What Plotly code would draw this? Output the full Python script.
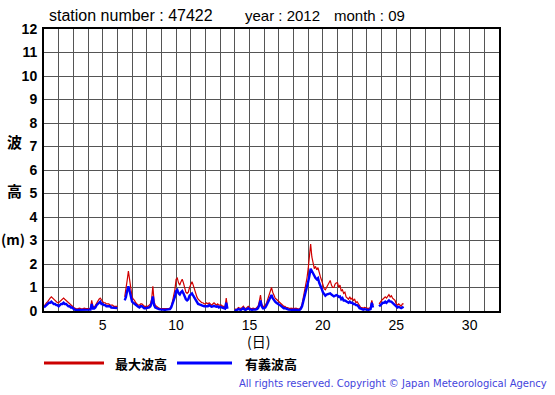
import plotly.graph_objects as go

# 2-hour step, values per day (index = hour/2)
start_day = 1
step_hours = 2

max_wave = [
    # day 1
    0.2, 0.3, 0.35, 0.4, 0.5, 0.55, 0.6, 0.55, 0.5, 0.45, 0.4, 0.35,
    # day 2
    0.35, 0.4, 0.45, 0.5, 0.55, 0.5, 0.45, 0.4, 0.35, 0.3, 0.25, 0.2,
    # day 3
    0.15, 0.12, 0.1, 0.08, 0.1, 0.12, 0.1, 0.08, 0.1, 0.12, 0.1, 0.1,
    # day 4
    0.1, 0.12, 0.1, 0.45, 0.2, 0.15, 0.25, 0.35, 0.45, 0.5, 0.55, 0.45,
    # day 5
    0.4, 0.35, 0.35, 0.3, 0.3, 0.3, 0.25, 0.25, 0.25, 0.2, 0.2, 0.2,
    # day 6
    0.2, None, None, None, None, None, 0.6, 0.9, 1.3, 1.7, 1.3, 0.8,
    # day 7
    0.6, 0.5, 0.45, 0.35, 0.3, 0.25, 0.25, 0.3, 0.3, 0.25, 0.2, 0.2,
    # day 8
    0.2, 0.2, 0.25, 0.3, 0.5, 1.05, 0.4, 0.25, 0.2, 0.15, 0.12, 0.1,
    # day 9
    0.1, 0.1, 0.08, 0.08, 0.1, 0.1, 0.1, 0.12, 0.2, 0.4, 0.6, 0.9,
    # day 10
    1.35, 1.4, 1.2, 1.1, 1.25, 1.35, 1.2, 0.95, 0.8, 0.75, 0.8, 1.0,
    # day 11
    1.15, 1.25, 1.1, 0.9, 0.75, 0.6, 0.5, 0.45, 0.4, 0.35, 0.35, 0.3,
    # day 12
    0.3, 0.35, 0.3, 0.35, 0.3, 0.25, 0.3, 0.35, 0.3, 0.25, 0.3, 0.25,
    # day 13
    0.25, 0.25, 0.2, 0.2, 0.15, 0.55, 0.15, None, None, None, None, None,
    # day 14
    0.1, 0.05, 0.1, 0.15, 0.12, 0.1, 0.15, 0.2, 0.12, 0.1, 0.15, 0.2,
    # day 15
    0.15, 0.1, 0.1, 0.12, 0.1, 0.1, 0.15, 0.2, 0.4, 0.68, 0.3, 0.2,
    # day 16
    0.2, 0.25, 0.35, 0.5, 0.7, 0.85, 1.0, 0.8, 0.65, 0.55, 0.5, 0.45,
    # day 17
    0.4, 0.35, 0.3, 0.25, 0.2, 0.2, 0.15, 0.15, 0.12, 0.1, 0.12, 0.1,
    # day 18
    0.12, 0.1, 0.12, 0.1, 0.08, 0.1, 0.15, 0.3, 0.55, 0.85, 1.0, 1.4,
    # day 19
    1.8, 2.3, 2.85, 2.3, 2.05, 1.8, 1.9, 1.75, 1.85, 1.6, 1.45, 1.3,
    # day 20
    1.1, 0.95, 0.9, 1.0, 1.05, 1.2, 1.3, 1.1, 1.0, 1.0, 1.15, 1.2,
    # day 21
    1.2, 1.0, 1.1, 0.85, 0.9, 0.75, 0.8, 0.6, 0.55, 0.5, 0.6, 0.5,
    # day 22
    0.55, 0.45, 0.5, 0.35, 0.4, 0.3, 0.2, 0.15, 0.15, 0.12, 0.15, 0.12,
    # day 23
    0.12, 0.1, 0.12, 0.15, 0.45, 0.25, None, None, None, None, 0.3, 0.4,
    # day 24
    0.45, 0.5, 0.55, 0.6, 0.55, 0.65, 0.7, 0.6, 0.65, 0.55, 0.5, 0.45,
    # day 25
    0.3, 0.25, 0.3, 0.25, 0.2, 0.3, 0.3,
]

sig_wave = [
    # day 1
    0.15, 0.2, 0.25, 0.3, 0.35, 0.35, 0.4, 0.35, 0.3, 0.3, 0.25, 0.25,
    # day 2
    0.2, 0.25, 0.3, 0.3, 0.35, 0.3, 0.3, 0.25, 0.2, 0.2, 0.15, 0.15,
    # day 3
    0.08, 0.06, 0.05, 0.05, 0.06, 0.07, 0.06, 0.05, 0.06, 0.07, 0.06, 0.06,
    # day 4
    0.06, 0.07, 0.06, 0.3, 0.1, 0.1, 0.15, 0.25, 0.3, 0.35, 0.4, 0.3,
    # day 5
    0.3, 0.25, 0.25, 0.2, 0.2, 0.2, 0.2, 0.15, 0.15, 0.15, 0.12, 0.12,
    # day 6
    0.12, None, None, None, None, None, 0.45, 0.6, 0.85, 1.05, 0.85, 0.55,
    # day 7
    0.4, 0.35, 0.3, 0.25, 0.2, 0.18, 0.15, 0.2, 0.2, 0.15, 0.12, 0.12,
    # day 8
    0.12, 0.12, 0.15, 0.2, 0.35, 0.62, 0.25, 0.15, 0.12, 0.1, 0.08, 0.07,
    # day 9
    0.06, 0.06, 0.05, 0.05, 0.06, 0.06, 0.06, 0.08, 0.15, 0.3, 0.45, 0.6,
    # day 10
    0.85, 0.9, 0.75, 0.7, 0.8, 0.85, 0.75, 0.6, 0.5, 0.45, 0.5, 0.65,
    # day 11
    0.7, 0.75, 0.65, 0.55, 0.45, 0.35, 0.3, 0.28, 0.25, 0.22, 0.22, 0.2,
    # day 12
    0.2, 0.22, 0.2, 0.25, 0.2, 0.18, 0.2, 0.22, 0.2, 0.18, 0.2, 0.15,
    # day 13
    0.18, 0.15, 0.12, 0.12, 0.1, 0.35, 0.1, None, None, None, None, None,
    # day 14
    0.05, 0.02, 0.05, 0.08, 0.06, 0.05, 0.08, 0.12, 0.06, 0.05, 0.08, 0.12,
    # day 15
    0.08, 0.06, 0.05, 0.06, 0.05, 0.06, 0.08, 0.12, 0.25, 0.45, 0.2, 0.12,
    # day 16
    0.12, 0.15, 0.25, 0.35, 0.5, 0.6, 0.68, 0.55, 0.45, 0.4, 0.35, 0.3,
    # day 17
    0.28, 0.25, 0.2, 0.15, 0.12, 0.12, 0.08, 0.08, 0.06, 0.05, 0.06, 0.05,
    # day 18
    0.06, 0.05, 0.06, 0.05, 0.04, 0.05, 0.1, 0.2, 0.4, 0.6, 0.75, 1.0,
    # day 19
    1.25, 1.5, 1.8, 1.7, 1.6, 1.45, 1.4, 1.35, 1.4, 1.2, 1.1, 0.95,
    # day 20
    0.8, 0.7, 0.65, 0.7, 0.72, 0.75, 0.75, 0.7, 0.65, 0.62, 0.65, 0.68,
    # day 21
    0.65, 0.6, 0.62, 0.5, 0.55, 0.45, 0.45, 0.4, 0.38, 0.35, 0.4, 0.35,
    # day 22
    0.35, 0.3, 0.3, 0.25, 0.25, 0.2, 0.12, 0.1, 0.08, 0.06, 0.08, 0.06,
    # day 23
    0.06, 0.05, 0.06, 0.08, 0.35, 0.15, None, None, None, None, 0.2, 0.25,
    # day 24
    0.3, 0.35, 0.35, 0.4, 0.35, 0.4, 0.45, 0.4, 0.4, 0.35, 0.3, 0.28,
    # day 25
    0.2, 0.15, 0.18, 0.15, 0.12, 0.15, 0.18,
]

x_tick_labels = ["5", "10", "15", "20", "25", "30"]
y_tick_labels = [str(v) for v in range(0, 13)]

title_parts = ["station number : 47422", "year : 2012", "month : 09"]
legend_names = ["最大波高", "有義波高"]
copyright_text = "All rights reserved. Copyright © Japan Meteorological Agency"

times = [start_day + i * step_hours / 24 for i in range(len(max_wave))]

fig = go.Figure()
fig.add_trace(go.Scatter(x=times, y=max_wave, mode="lines",
                         line=dict(color="#d00000", width=1.2),
                         connectgaps=False, name=legend_names[0], showlegend=False))
fig.add_trace(go.Scatter(x=times, y=sig_wave, mode="lines",
                         line=dict(color="#0000ff", width=2.4),
                         connectgaps=False, name=legend_names[1], showlegend=False))

tickvals = list(range(1, 33))
ticktext = [str(v) if str(v) in x_tick_labels else "" for v in tickvals]

fig.update_xaxes(range=[1, 32], tickvals=tickvals, ticktext=ticktext,
                 showgrid=True, gridcolor="#555555", gridwidth=1,
                 showline=True, linecolor="black", linewidth=2, mirror=True,
                 ticks="", zeroline=False, ticklabelstandoff=0,
                 tickfont=dict(family="Liberation Sans, Arial", size=14, color="black"))
fig.update_yaxes(range=[0, 12], tickvals=list(range(0, 13)), ticktext=y_tick_labels,
                 showgrid=True, gridcolor="#555555", gridwidth=1,
                 showline=True, linecolor="black", linewidth=2, mirror=True,
                 ticks="", zeroline=False, ticklabelstandoff=2,
                 tickfont=dict(family="Liberation Sans, Arial", size=14, color="black",
                               weight="bold"))

L, R, T, B = 44, 56, 29, 84
W, H = 555, 395
pw, ph = W - L - R, H - T - B


def px(x):
    return (x - L) / pw


def py(y):
    return (H - B - y) / ph


title_font = dict(family="Liberation Sans, Arial", size=15, color="black")
annotations = [
    dict(text=title_parts[0], x=px(47), y=py(16), xanchor="left", yanchor="middle",
         font=dict(title_font, size=16)),
    dict(text=title_parts[1], x=px(243), y=py(16), xanchor="left", yanchor="middle",
         font=title_font),
    dict(text=title_parts[2], x=px(332), y=py(16), xanchor="left", yanchor="middle",
         font=title_font),
    dict(text="波", x=px(14), y=py(141), xanchor="center", yanchor="middle",
         font=dict(family="Noto Sans CJK JP", size=15, color="black", weight="bold")),
    dict(text="高", x=px(14), y=py(190), xanchor="center", yanchor="middle",
         font=dict(family="Noto Sans CJK JP", size=15, color="black", weight="bold")),
    dict(text="(m)", x=px(13), y=py(239), xanchor="center", yanchor="middle",
         font=dict(family="Noto Sans CJK JP", size=14, color="black", weight="bold")),
    dict(text="(日)", x=px(258.5), y=py(341), xanchor="center", yanchor="middle",
         font=dict(family="Noto Sans CJK JP", size=14, color="black")),
    dict(text=legend_names[0], x=px(113), y=py(363), xanchor="left", yanchor="middle",
         font=dict(family="Noto Sans CJK JP", size=13, color="black", weight="bold")),
    dict(text=legend_names[1], x=px(243), y=py(363), xanchor="left", yanchor="middle",
         font=dict(family="Noto Sans CJK JP", size=13, color="black", weight="bold")),
    dict(text=copyright_text, x=px(549), y=py(384), xanchor="right", yanchor="middle",
         font=dict(family="DejaVu Sans", size=10, color="#4444dd")),
]
for a in annotations:
    a.update(xref="paper", yref="paper", showarrow=False)

shapes = [
    dict(type="line", xref="paper", yref="paper", x0=px(44), x1=px(104),
         y0=py(363), y1=py(363), line=dict(color="#cc0000", width=3)),
    dict(type="line", xref="paper", yref="paper", x0=px(177), x1=px(232),
         y0=py(363), y1=py(363), line=dict(color="#0000ff", width=3)),
]

fig.update_layout(width=W, height=H, margin=dict(l=L, r=R, t=T, b=B),
                  paper_bgcolor="white", plot_bgcolor="white",
                  annotations=annotations, shapes=shapes, showlegend=False)

fig.write_html("out.html", config={"displayModeBar": False},
               post_script="document.body.style.margin='0px';document.body.style.overflow='hidden';")
